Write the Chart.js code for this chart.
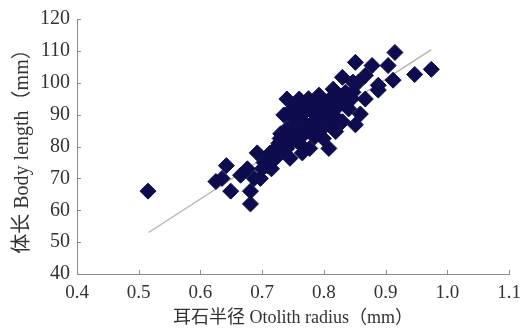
<!DOCTYPE html>
<html>
<head>
<meta charset="utf-8">
<script src="https://cdn.jsdelivr.net/npm/chart.js@4/dist/chart.umd.min.js"></script>
<style>
  html, body { margin: 0; padding: 0; background: #fff; }
  #wrap { width: 529px; height: 329px; }
</style>
</head>
<body>
<div id="wrap"><canvas id="chart"></canvas></div>
<script>
// otolith radius (mm) vs body length (mm)
const radius = [
  0.515, 0.625, 0.642, 0.649, 0.635, 0.665, 0.676, 0.681, 0.681, 0.687,
  0.692, 0.697, 0.703, 0.708, 0.713, 0.720, 0.727, 0.729, 0.735, 0.740,
  0.745, 0.740, 0.735, 0.740, 0.751, 0.760, 0.755, 0.760, 0.767, 0.777,
  0.770, 0.783, 0.788, 0.792, 0.780, 0.799, 0.808, 0.800, 0.805, 0.815,
  0.815, 0.819, 0.830, 0.830, 0.835, 0.840, 0.847, 0.851, 0.856, 0.859,
  0.867, 0.888, 0.851, 0.878, 0.904, 0.915, 0.912, 0.947, 0.974, 0.888,
  0.867, 0.847, 0.825, 0.810, 0.790, 0.775, 0.765, 0.750, 0.725, 0.730,
  0.745, 0.765, 0.785, 0.795, 0.820, 0.835, 0.710, 0.755, 0.770, 0.800,
  0.725, 0.750, 0.775, 0.790, 0.810, 0.820, 0.830, 0.845, 0.760, 0.740,
  0.700, 0.715
];
const bodyLength = [
  66, 69, 74, 66, 70, 71, 73, 66, 62, 70,
  78, 70, 75, 74, 78, 76, 81, 82.5, 79, 79.4,
  76.3, 85.6, 89.9, 94.9, 88.7, 94.9, 84, 81, 83.7, 79.4,
  87, 87.8, 93, 96.1, 91, 82.5, 79.4, 86, 90, 91.8,
  98, 84.7, 87.8, 101.7, 97, 91.8, 97, 86.8, 100.2, 90.2,
  94.9, 99.2, 106.4, 105.4, 105.4, 109.5, 100.8, 102.6, 104.2, 97.7,
  102.3, 100.2, 94, 95, 89, 85, 90, 82, 77, 84,
  91, 78, 83, 92, 89, 93, 76, 87, 93, 93,
  80, 92, 95, 86, 87, 92, 96, 95, 87, 82,
  73, 73
];

// fitted line ends
const fitX = [0.516, 0.974];
const fitY = [53, 110.4];

const xTicks = [0.4, 0.5, 0.6, 0.7, 0.8, 0.9, 1.0, 1.1];
const yTicks = [40, 50, 60, 70, 80, 90, 100, 110, 120];

const serif = "'Liberation Serif', 'Times New Roman', 'Noto Sans CJK SC', serif";

const points = radius.map((r, i) => ({ x: r, y: bodyLength[i] }));
const fitLine = fitX.map((v, i) => ({ x: v, y: fitY[i] }));

// small tick marks pointing into the plot, like the original
const innerTicks = {
  id: 'innerTicks',
  afterDraw(chart) {
    const ctx = chart.ctx;
    const xs = chart.scales.x, ys = chart.scales.y;
    ctx.save();
    ctx.strokeStyle = '#8a8a8a';
    ctx.lineWidth = 1;
    ctx.beginPath();
    xTicks.forEach(v => {
      const px = Math.round(xs.getPixelForValue(v)) + 0.5;
      ctx.moveTo(px, ys.bottom);
      ctx.lineTo(px, ys.bottom - 4);
    });
    yTicks.forEach(v => {
      const py = Math.round(ys.getPixelForValue(v)) + 0.5;
      ctx.moveTo(xs.left, py);
      ctx.lineTo(xs.left + 4, py);
    });
    ctx.stroke();
    ctx.restore();
  }
};

new Chart(document.getElementById('chart'), {
  type: 'scatter',
  data: {
    datasets: [
      {
        data: points,
        pointStyle: 'rectRot',
        pointRadius: 8,
        pointBackgroundColor: '#0c0c4e',
        pointBorderColor: '#0c0c4e',
        pointBorderWidth: 1
      },
      {
        type: 'line',
        data: fitLine,
        borderColor: '#b4b4b4',
        borderWidth: 1.3,
        pointRadius: 0,
        fill: false
      }
    ]
  },
  options: {
    responsive: true,
    maintainAspectRatio: false,
    animation: false,
    layout: { padding: { top: 16, right: 13, left: 11, bottom: 0 } },
    plugins: { legend: { display: false }, tooltip: { enabled: false } },
    scales: {
      x: {
        type: 'linear',
        min: 0.4,
        max: 1.1,
        afterBuildTicks: s => { s.ticks = xTicks.map(v => ({ value: v })); },
        afterFit: s => { s.height = 55; },
        grid: { display: false, drawTicks: false },
        border: { color: '#8a8a8a', width: 1 },
        ticks: {
          color: '#333',
          padding: 8,
          font: { family: serif, size: 19 },
          callback: v => v.toFixed(1)
        },
        title: {
          display: true,
          text: '耳石半径 Otolith radius（mm）',
          color: '#333',
          padding: { top: 0, bottom: 0 },
          font: { family: serif, size: 18 }
        }
      },
      y: {
        min: 40,
        max: 120,
        afterBuildTicks: s => { s.ticks = yTicks.map(v => ({ value: v })); },
        afterFit: s => { s.width = 66; },
        grid: { display: false, drawTicks: false },
        border: { color: '#8a8a8a', width: 1 },
        ticks: {
          color: '#333',
          padding: 7,
          font: { family: serif, size: 20 }
        },
        title: {
          display: true,
          text: '体长 Body length（mm）',
          color: '#333',
          padding: { top: 0, bottom: 0 },
          font: { family: serif, size: 20 }
        }
      }
    }
  },
  plugins: [innerTicks]
});
</script>
</body>
</html>
